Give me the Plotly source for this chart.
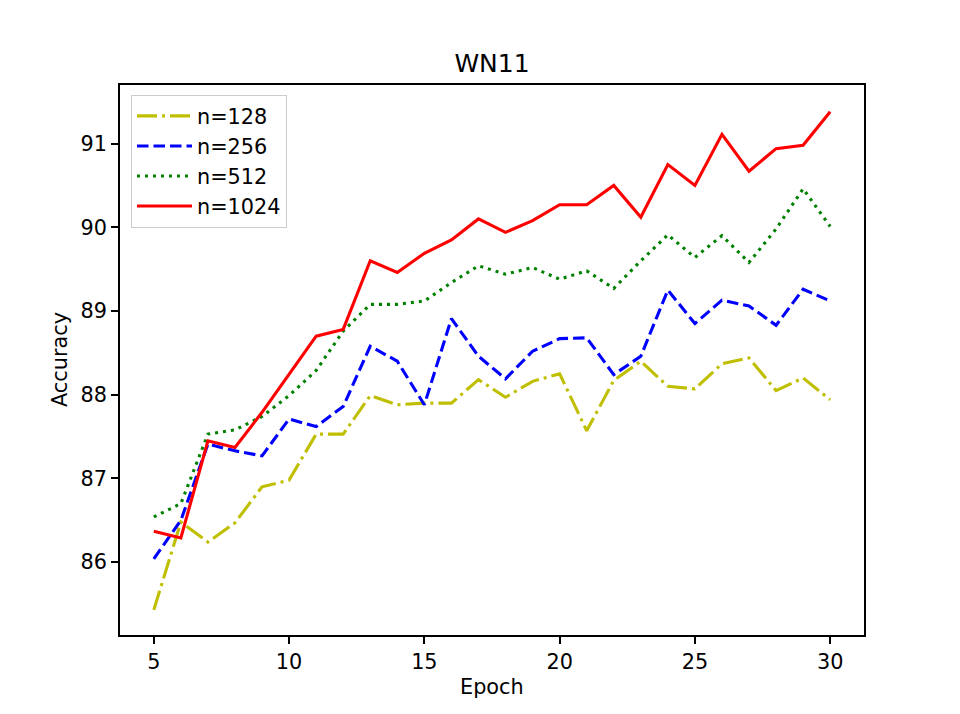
import plotly.graph_objects as go

epochs = list(range(5, 31))

acc_128 = [85.43, 86.48, 86.24, 86.47, 86.90, 86.98, 87.53, 87.53, 87.99, 87.88,
           87.90, 87.90, 88.18, 87.97, 88.16, 88.25, 87.57, 88.17, 88.40, 88.10,
           88.07, 88.37, 88.44, 88.05, 88.20, 87.94]
acc_256 = [86.04, 86.50, 87.41, 87.33, 87.27, 87.71, 87.62, 87.86, 88.58, 88.40,
           87.88, 88.91, 88.46, 88.19, 88.52, 88.67, 88.68, 88.24, 88.46, 89.25,
           88.85, 89.13, 89.06, 88.83, 89.26, 89.12]
acc_512 = [86.54, 86.70, 87.53, 87.58, 87.74, 87.99, 88.29, 88.76, 89.08, 89.08,
           89.12, 89.34, 89.54, 89.44, 89.52, 89.38, 89.48, 89.27, 89.60, 89.91,
           89.64, 89.90, 89.58, 89.98, 90.46, 90.01]
acc_1024 = [86.37, 86.29, 87.45, 87.37, 87.79, 88.25, 88.70, 88.78, 89.60, 89.46,
            89.69, 89.85, 90.10, 89.94, 90.08, 90.27, 90.27, 90.50, 90.12, 90.75,
            90.50, 91.11, 90.67, 90.94, 90.98, 91.38]

series_names = ["n=128", "n=256", "n=512", "n=1024"]
series_vals = [acc_128, acc_256, acc_512, acc_1024]
colors = ["#bfbf00", "#0000ff", "#008000", "#ff0000"]
dashes = ["20px,5px,3px,5px", "11.5px,5px", "3px,5px", "solid"]

x_ticks = [5, 10, 15, 20, 25, 30]
y_ticks = [86, 87, 88, 89, 90, 91]

FONT = "DejaVu Sans"

fig = go.Figure()
for name, vals, c, d in zip(series_names, series_vals, colors, dashes):
    fig.add_trace(go.Scatter(x=epochs, y=vals, mode="lines", name=name,
                             line=dict(color=c, width=3.1, dash=d)))

axis_common = dict(showline=True, mirror=True, linecolor="black", linewidth=1.67,
                   ticks="outside", ticklen=7, tickwidth=1.67, tickcolor="black",
                   showgrid=False, zeroline=False,
                   tickfont=dict(family=FONT, size=20.8, color="black"))

fig.update_layout(
    width=960, height=714,
    margin=dict(l=120, r=96, t=85, b=79),
    paper_bgcolor="white", plot_bgcolor="white",
    font=dict(family=FONT, color="black"),
    title=dict(text="WN11", x=492 / 960, xanchor="center", y=1 - 63 / 714,
               yanchor="middle", font=dict(family=FONT, size=25, color="black")),
    xaxis=dict(range=[3.75, 31.25], tickvals=x_ticks, **axis_common),
    yaxis=dict(range=[85.13, 91.70], tickvals=y_ticks, **axis_common),
    legend=dict(x=0.0148, y=0.982, xanchor="left", yanchor="top",
                bgcolor="rgba(255,255,255,0.8)", bordercolor="#cccccc", borderwidth=1,
                font=dict(family=FONT, size=20.8, color="black"),
                tracegroupgap=0, itemwidth=55),
    showlegend=True,
    annotations=[
        dict(text="Epoch", xref="paper", yref="paper", x=0.5, y=(635 - 687) / 550,
             xanchor="center", yanchor="middle", showarrow=False,
             font=dict(family=FONT, size=20.8, color="black")),
        dict(text="Accuracy", xref="paper", yref="paper", x=(60 - 120) / 744, y=0.5,
             xanchor="center", yanchor="middle", showarrow=False, textangle=-90,
             font=dict(family=FONT, size=20.8, color="black")),
    ],
)

fig.write_html("out.html")
